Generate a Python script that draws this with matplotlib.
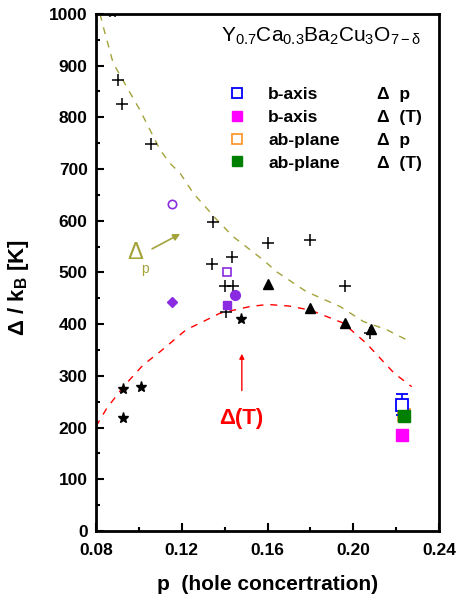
import matplotlib.pyplot as plt
from matplotlib.ticker import MultipleLocator, FormatStrFormatter
from matplotlib.lines import Line2D

plt.rcParams['font.family'] = ['Liberation Sans', 'DejaVu Sans']
plt.rcParams['mathtext.fontset'] = 'custom'
plt.rcParams['mathtext.rm'] = 'Liberation Sans'
plt.rcParams['mathtext.it'] = 'Liberation Sans'
plt.rcParams['mathtext.bf'] = 'Liberation Sans:bold'

# Delta_p data (black crosses)
cross_p = [0.0904, 0.092, 0.1056, 0.1344, 0.1436, 0.134, 0.140, 0.1440, 0.1406,
           0.160, 0.1798, 0.196, 0.2078]
cross_d = [873, 825, 748, 598, 530, 516, 473, 474, 424, 556, 563, 474, 383]

# stars
star_p = [0.0927, 0.101, 0.0927, 0.1475, 0.0875]
star_d = [275, 279, 219, 409, 1004]

# filled triangles
tri_p = [0.160, 0.180, 0.196, 0.208]
tri_d = [478, 431, 402, 391]

# violet points
vio_open_circ = ([0.1153], [632])
vio_fill_dia = ([0.1153], [443])
vio_open_sq = ([0.1413], [501])
vio_fill_sq = ([0.1413], [437])
vio_fill_circ = ([0.1448], [457])

# this work
b_dp = ([0.2229], [244], [20])
b_dT = ([0.2229], [185])
ab_dp = ([0.2238], [225], [9])
ab_dT = ([0.2238], [223])

# guide-to-eye curves
olive_p = [0.0819, 0.0834, 0.088, 0.0951, 0.1005, 0.1099, 0.1145, 0.1192, 0.1254,
           0.1363, 0.144, 0.158, 0.1643, 0.178, 0.1938, 0.2047, 0.2156, 0.2265]
olive_d = [1000, 975, 905, 853, 814, 737, 711, 692, 653,
           602, 569, 524, 501, 463, 434, 405, 389, 366]
red_p = [0.080, 0.085, 0.093, 0.102, 0.110, 0.122, 0.130, 0.1378, 0.1518,
         0.160, 0.170, 0.180, 0.1953, 0.206, 0.219, 0.2272]
red_d = [202, 237, 280, 321, 347, 389, 405, 421, 434,
         438, 435, 427, 402, 363, 305, 279]

olive = '#a3a33a'
violet = '#8a2be2'

fig = plt.figure(figsize=(4.57, 6.04), dpi=100)
ax = fig.add_axes([0.210, 0.121, 0.751, 0.856])

ax.plot(olive_p, olive_d, '--', color=olive, lw=1.0, dashes=(5, 5))
ax.plot(red_p, red_d, '--', color='red', lw=1.0, dashes=(5, 5))

ax.plot(cross_p, cross_d, '+', color='black', ms=8, mew=1.1)
ax.plot(star_p, star_d, '*', color='black', ms=8)
ax.plot(tri_p, tri_d, '^', color='black', ms=7)

ax.plot(*vio_open_circ, 'o', mfc='white', mec=violet, ms=6, mew=1.2)
ax.plot(*vio_fill_dia, 'D', color=violet, ms=5)
ax.plot(*vio_open_sq, 's', mfc='white', mec=violet, ms=6, mew=1.2)
ax.plot(*vio_fill_sq, 's', color=violet, ms=6)
ax.plot(*vio_fill_circ, 'o', color=violet, ms=7)

ax.errorbar(b_dp[0], b_dp[1], yerr=b_dp[2], fmt='s', mfc='white', mec='blue',
            ecolor='blue', ms=8, mew=1.3, capsize=4, elinewidth=1.2, zorder=4)
ax.plot(*b_dT, 's', color='magenta', ms=8)
ax.errorbar(ab_dp[0], ab_dp[1], yerr=ab_dp[2], fmt='s', mfc='white', mec='#ff9933',
            ecolor='#ff9933', ms=8, mew=1.3, capsize=3, zorder=3)
ax.plot(*ab_dT, 's', color='green', ms=8, zorder=5)

ax.set_xlim(0.08, 0.24)
ax.set_ylim(0, 1000)
ax.xaxis.set_major_locator(MultipleLocator(0.04))
ax.xaxis.set_minor_locator(MultipleLocator(0.02))
ax.xaxis.set_major_formatter(FormatStrFormatter('%.2f'))
ax.yaxis.set_major_locator(MultipleLocator(100))
ax.yaxis.set_minor_locator(MultipleLocator(50))
ax.tick_params(which='both', direction='in', top=False, right=False, width=1.5)
ax.tick_params(which='major', length=6, labelsize=12.5)
ax.tick_params(axis='x', pad=9)
ax.tick_params(axis='y', pad=6)
ax.tick_params(which='minor', length=3)
for lab in ax.get_xticklabels() + ax.get_yticklabels():
    lab.set_fontweight('bold')
for s in ax.spines.values():
    s.set_linewidth(2)

ax.set_xlabel('p  (hole concertration)', fontsize=15, fontweight='bold', labelpad=12)
ax.set_ylabel('Δ / k$_\\mathbf{B}$ [K]', fontsize=16, fontweight='bold')
ax.yaxis.set_label_coords(-0.19, 0.47)

ax.text(0.655, 0.957, r'Y$_{0.7}$Ca$_{0.3}$Ba$_2$Cu$_3$O$_{7-\delta}$',
        transform=ax.transAxes, ha='center', va='center', fontsize=15)

proxies = [Line2D([], [], ls='none', marker='s', mfc='white', mec='blue', ms=7, mew=1.3),
           Line2D([], [], ls='none', marker='s', color='magenta', ms=7),
           Line2D([], [], ls='none', marker='s', mfc='white', mec='#ff9933', ms=7, mew=1.3),
           Line2D([], [], ls='none', marker='s', color='green', ms=7)]
leg_font = {'size': 12.5, 'weight': 'bold'}
leg1 = ax.legend(proxies, ['b-axis', 'b-axis', 'ab-plane', 'ab-plane'],
                 loc='upper left', bbox_to_anchor=(0.36, 0.873), frameon=False,
                 prop=leg_font, labelspacing=0.45, handletextpad=1.2, handlelength=1.2,
                 borderaxespad=0)
ax.add_artist(leg1)
blank = Line2D([], [], ls='none')
ax.legend([blank] * 4, ['Δ  p', 'Δ  (T)', 'Δ  p', 'Δ  (T)'],
          loc='upper left', bbox_to_anchor=(0.80, 0.873), frameon=False,
          prop=leg_font, labelspacing=0.45, handlelength=0, handletextpad=0,
          borderaxespad=0)

ax.text(0.0984, 538, 'Δ', color=olive, fontsize=17, ha='center', va='center')
ax.text(0.1030, 507, 'p', color=olive, fontsize=10, ha='center', va='center')
ax.annotate('', xy=(0.1204, 577), xytext=(0.1050, 543),
            arrowprops=dict(arrowstyle='-|>', color=olive, lw=1.2, mutation_scale=10))
ax.text(0.1475, 218, 'Δ(T)', color='red', fontsize=16, ha='center',
        va='center', fontweight='bold')
ax.annotate('', xy=(0.148, 348), xytext=(0.148, 266),
            arrowprops=dict(arrowstyle='-|>', color='red', lw=1.0, mutation_scale=7))

fig.savefig('out.png', dpi=100)
